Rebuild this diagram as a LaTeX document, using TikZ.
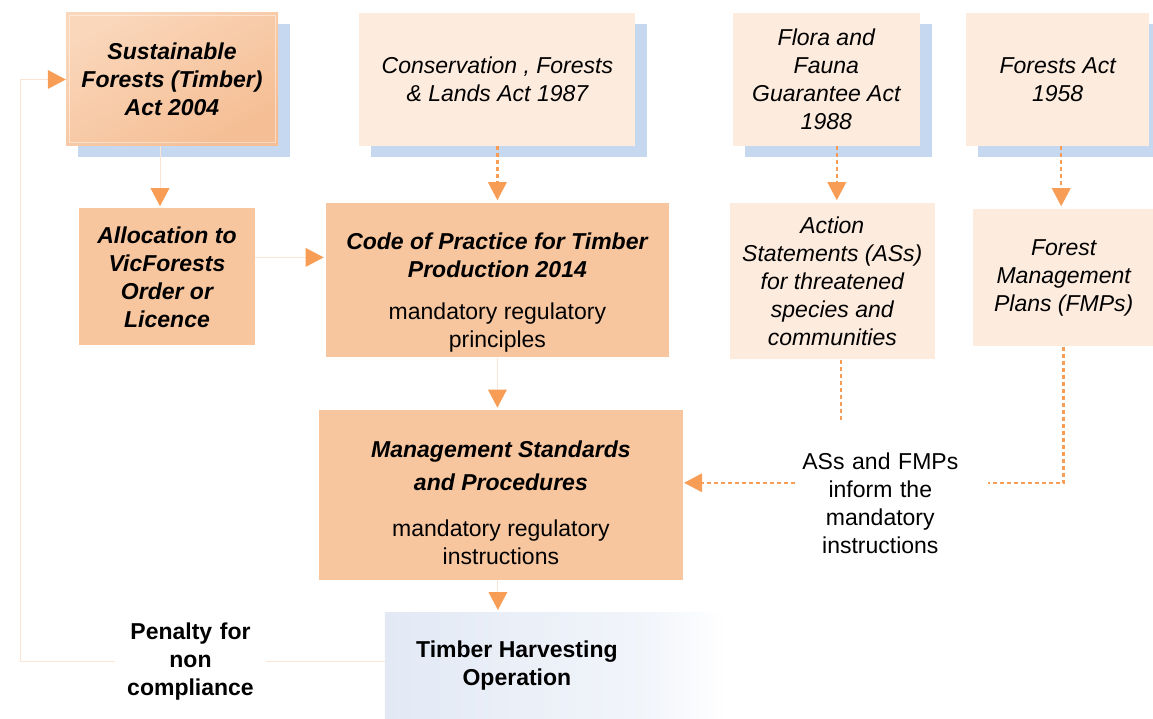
\documentclass[tikz,border=0pt]{standalone}
\usepackage{fontspec}
\setmainfont{Liberation Sans}
\usepackage[table]{xcolor}
\usepackage{tikz}
\usetikzlibrary{arrows.meta,positioning,shadows}

\definecolor{tipc}{RGB}{247,157,86}
\definecolor{linec}{RGB}{252,228,212}
\definecolor{actc}{RGB}{253,235,222}
\definecolor{blockc}{RGB}{248,198,158}
\definecolor{shadowc}{RGB}{197,216,240}
\definecolor{keytop}{RGB}{250,214,186}
\definecolor{keybot}{RGB}{245,190,148}
\definecolor{opc}{RGB}{226,233,245}

\newcommand{\keyt}[1]{\textbf{\textit{#1}}}

\begin{document}
\begin{tikzpicture}[
        x=1pt, y=1pt,
        node distance=50pt,
        act/.style={rectangle, fill=actc, align=center, inner sep=0pt, minimum height=133pt, font=\fontsize{23}{28}\selectfont\itshape, drop shadow={shadow xshift=12pt, shadow yshift=-11pt, fill=shadowc, opacity=1}},
        keyact/.style={act, top color=keytop, bottom color=keybot, shading angle=30, font=\fontsize{23}{28}\selectfont\bfseries\itshape,
            path picture={\draw[white, opacity=.45, line width=1pt] ([shift={(3pt,3pt)}]path picture bounding box.south west) rectangle ([shift={(-3pt,-3pt)}]path picture bounding box.north east);}},
        block/.style={rectangle, fill=blockc, align=center, inner sep=0pt, font=\fontsize{23}{28}\selectfont},
        keyblock/.style={block, font=\fontsize{23}{28}\selectfont\bfseries\itshape},
        lightblock/.style={block, fill=actc, font=\fontsize{23}{28}\selectfont\itshape},
        opbox/.style={rectangle, left color=opc, right color=opc!45, align=center, inner sep=0pt, font=\fontsize{23}{28}\selectfont\bfseries},
        note/.style={align=center, text width=180pt, inner sep=0pt, font=\fontsize{23}{28}\selectfont},
        arrow/.style={draw=linec, line width=1pt, -{Triangle[length=18pt,width=19pt,line width=0pt,color=tipc]}, shorten >=2pt},
        dotline/.style={draw=tipc, line width=2.5pt, dash pattern=on 4pt off 3pt},
        dotarrow/.style={dotline, -{Triangle[length=18pt,width=19pt,line width=0pt]}, shorten >=3pt}
    ]
    \useasboundingbox (0,0) rectangle (1153,-719);
    % Acts
    \node[keyact, minimum width=212pt] (sfta) at (172,-79.5) {Sustainable\\Forests (Timber)\\Act 2004};
    \node[act, minimum width=276pt, right=81pt of sfta] (cfla) {Conservation , Forests\\\& Lands Act 1987};
    \node[act, minimum width=187pt, right=97pt of cfla] (ffga) {Flora and\\Fauna\\Guarantee Act\\1988};
    \node[act, minimum width=183pt, right=46pt of ffga] (fa) {Forests Act\\1958};
    % Instruments
    \node[keyblock, minimum width=176pt, minimum height=137pt, below=62pt of sfta, xshift=-5pt] (alloc) {Allocation to\\VicForests\\Order or\\Licence};
    \node[block, minimum width=343pt, minimum height=154pt, below=57pt of cfla] (code) {\rule{0pt}{41pt}\keyt{Code of Practice for Timber}\\\keyt{Production 2014}\\[14pt]mandatory regulatory\\principles};
    \node[lightblock, minimum width=205pt, minimum height=156pt, below=57pt of ffga, xshift=6pt] (as) {Action\\Statements (ASs)\\for threatened\\species and\\communities};
    \node[lightblock, minimum width=181pt, minimum height=137pt, below=63pt of fa, xshift=6pt] (fmp) {Forest\\Management\\Plans (FMPs)};
    % Standards and operation
    \node[block, minimum width=364pt, minimum height=170pt, below=52pt of code, xshift=3.5pt] (msp) {\rule{0pt}{33pt}\keyt{Management Standards}\\[5pt]\keyt{and Procedures}\\[18pt]mandatory regulatory\\instructions};
    \node[opbox, minimum width=264pt, minimum height=107pt, below=32pt of msp, xshift=16pt] (tho) {Timber Harvesting\\Operation};
    \shade[left color=opc!45, right color=white] (tho.north east) rectangle ([xshift=76pt]tho.south east);
    \node[note, right=107pt of msp, yshift=-8.5pt] (inform) {ASs and FMPs\\inform the\\mandatory\\instructions};
    \node[note, text width=150pt, font=\fontsize{23}{28}\selectfont\bfseries, left=119pt of tho, yshift=4.5pt] (penalty) {Penalty for\\non\\compliance};
    \coordinate (informin) at ([shift={(5pt,20.5pt)}]inform.west);
    \coordinate (informout) at ([shift={(17pt,20.5pt)}]inform.east);
    % Arrows
    \draw[arrow] ([xshift=-12pt]sfta.south) -- ([xshift=-12pt]sfta.south |- alloc.north);
    \draw[arrow] ([yshift=19.5pt]alloc.east) -- ([yshift=19.5pt]alloc.east -| code.west);
    \draw[arrow] (code.south) -- (code.south |- msp.north);
    \draw[arrow] ([xshift=-3pt]msp.south) -- ([xshift=-3pt]msp.south |- tho.north);
    \draw[dotarrow] (cfla.south) -- (cfla.south |- code.north);
    \draw[dotarrow] ([xshift=10.5pt]ffga.south) -- ([xshift=10.5pt]ffga.south |- as.north);
    \draw[dotarrow] ([xshift=3.5pt]fa.south) -- ([xshift=3.5pt]fa.south |- fmp.north);
    \draw[dotline] ([xshift=8.5pt]as.south) -- ++(0,-60);
    \draw[dotline] (fmp.south) |- (informout);
    \draw[dotarrow, shorten >=1pt] (informin) -- (informin -| msp.east);
    \draw[draw=linec, line width=1pt] (penalty.east) -- (penalty.east -| tho.west);
    \draw[arrow, shorten >=0pt] (penalty.west) -| ([xshift=-45pt]sfta.west) -- (sfta.west);
\end{tikzpicture}
\end{document}
